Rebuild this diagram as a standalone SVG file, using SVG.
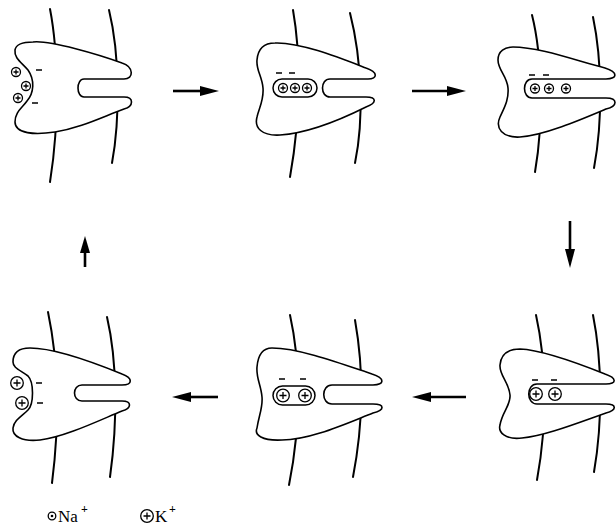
<svg xmlns="http://www.w3.org/2000/svg" width="616" height="526" viewBox="0 0 616 526">
  <defs>
    <style>
      .mem { fill: none; stroke: #000; stroke-width: 2; stroke-linecap: round; }
      .prot { fill: #fff; stroke: #000; stroke-width: 1.6; stroke-linejoin: round; }
      .gap { fill: #fff; stroke: none; }
      .cap { fill: #fff; stroke: #000; stroke-width: 1.5; }
      .ion { fill: #fff; stroke: #000; stroke-width: 1.3; }
      .pl { fill: none; stroke: #000; stroke-width: 1.3; }
      .neg { fill: none; stroke: #000; stroke-width: 1.4; }
      .shaft { fill: none; stroke: #000; stroke-width: 2.6; }
      .head { fill: #000; }
      .lbl { font-family: "Liberation Serif", "Times New Roman", serif; font-size: 17px; fill: #000; }
      .sup { font-family: "Liberation Serif", "Times New Roman", serif; font-size: 12px; font-weight: bold; fill: #000; }
    </style>
    <!-- Na+ ion: small circle with a plus -->
    <g id="na">
      <circle class="ion" r="4.5"/>
      <path class="pl" d="M-2.5,0H2.5M0,-2.5V2.5"/>
    </g>
    <!-- K+ ion: larger circle with a plus -->
    <g id="k">
      <circle class="ion" r="6.3"/>
      <path class="pl" d="M-3.5,0H3.5M0,-3.5V3.5"/>
    </g>
  </defs>

  <!-- Step 1: Na+ bound at the inward-open pocket -->
  <g id="step1">
    <path class="mem" d="M50,9 C58,50 60,120 50,182"/>
    <path class="mem" d="M109,10 C120,55 120,120 112,163"/>
    <rect class="gap" x="84" y="79" width="46" height="18"/>
    <path class="prot" d="M33,42 C50,40 100,55 122,63 C134,67 134,79 124,79 L84,79 C76,79 76,97 84,97 L124,97 C134,97 134,106 124,109 C100,118 80,128 55,132 C35,135 15,134 15,122 C15,112 22,108 27,101 C34,93 35,80 28,70 C21,62 14,58 15,50 C16,44 24,42 33,42 Z"/>
    <use href="#na" x="16" y="72"/>
    <use href="#na" x="26" y="86"/>
    <use href="#na" x="18" y="98"/>
    <path class="neg" d="M36,70H42M32,103H38"/>
  </g>

  <!-- Step 2: Na+ occluded -->
  <g id="step2">
    <path class="mem" d="M293,10 C300,50 302,110 290,177"/>
    <path class="mem" d="M350,13 C362,60 364,120 355,163"/>
    <rect class="gap" x="330" y="79" width="44" height="18"/>
    <path class="prot" d="M275,43 C300,42 340,58 366,68 C378,72 378,79 368,79 L330,79 C320,79 320,97 330,97 L366,97 C377,97 377,103 366,107 C340,120 310,133 280,135 C262,136 254,128 257,117 C259,108 264,100 263,88 C262,76 256,70 257,60 C258,48 265,43 275,43 Z"/>
    <rect class="cap" x="273" y="79" width="44" height="18" rx="9"/>
    <use href="#na" x="283" y="88"/>
    <use href="#na" x="295" y="88"/>
    <use href="#na" x="307" y="88"/>
    <path class="neg" d="M276,73H282M289,73H295"/>
  </g>

  <!-- Step 3: Na+ released to the outside -->
  <g id="step3">
    <path class="mem" d="M532,15 C542,55 544,120 535,172"/>
    <path class="mem" d="M593,17 C602,60 603,120 594,168"/>
    <rect class="gap" x="532" y="79" width="84" height="19"/>
    <path class="prot" d="M513,47 C540,47 580,62 605,68 C618,72 618,79 606,79 L532,79 C522,79 522,98 532,98 L606,98 C618,98 618,106 606,109 C580,120 545,135 520,137 C502,138 495,128 500,117 C504,108 509,100 508,88 C507,76 498,70 498,60 C498,51 505,47 513,47 Z"/>
    <use href="#na" x="535" y="88.5"/>
    <use href="#na" x="549" y="88.5"/>
    <use href="#na" x="566" y="88.5"/>
    <path class="neg" d="M529,75H535M543,75H549"/>
  </g>

  <!-- Step 4: K+ bound from the outside -->
  <g id="step4">
    <path class="mem" d="M536,315 C546,360 548,420 537,480"/>
    <path class="mem" d="M593,315 C602,360 603,420 594,472"/>
    <rect class="gap" x="537" y="384" width="79" height="20"/>
    <path class="prot" d="M520,349 C545,350 585,366 605,374 C617,378 617,384 606,384 L537,384 C526,384 526,404 537,404 L606,404 C617,404 617,410 606,413 C580,422 545,436 522,438 C505,440 498,432 500,425 C502,412 511,405 510,395 C509,382 499,375 500,365 C501,354 508,349 520,349 Z"/>
    <use href="#k" x="536" y="394"/>
    <use href="#k" x="555" y="394"/>
    <path class="neg" d="M532,380H538M551,380H557"/>
  </g>

  <!-- Step 5: K+ occluded -->
  <g id="step5">
    <path class="mem" d="M290,315 C300,360 302,420 289,485"/>
    <path class="mem" d="M355,320 C363,365 364,420 353,477"/>
    <rect class="gap" x="332" y="385" width="48" height="19"/>
    <path class="prot" d="M272,348 C300,348 345,365 372,374 C385,378 385,385 373,385 L332,385 C321,385 321,404 332,404 L373,404 C385,404 385,410 373,413 C345,424 310,440 282,440 C262,441 254,435 257,428 C259,415 263,407 262,397 C261,385 256,378 257,367 C258,355 263,348 272,348 Z"/>
    <rect class="cap" x="273" y="386" width="42" height="19" rx="9.5"/>
    <use href="#k" x="283" y="395.5"/>
    <use href="#k" x="305" y="395.5"/>
    <path class="neg" d="M279,379H285M300,379H306"/>
  </g>

  <!-- Step 6: K+ released to the inside -->
  <g id="step6">
    <path class="mem" d="M48,312 C58,360 60,420 52,483"/>
    <path class="mem" d="M107,317 C117,360 118,420 110,477"/>
    <rect class="gap" x="82" y="385" width="46" height="16"/>
    <path class="prot" d="M30,348 C55,348 100,365 122,374 C133,378 133,385 122,385 L82,385 C72,385 72,401 82,401 L122,401 C132,401 132,408 122,411 C100,420 65,437 40,440 C22,442 12,436 13,428 C14,420 22,416 28,410 C34,404 34,382 28,376 C20,370 13,368 13,362 C13,352 20,348 30,348 Z"/>
    <use href="#k" x="17" y="383"/>
    <use href="#k" x="22" y="403"/>
    <path class="neg" d="M36,383H42M37,403H43"/>
  </g>

  <!-- Cycle arrows -->
  <g id="connectors">
    <line class="shaft" x1="173" y1="91" x2="203" y2="91"/>
    <polygon class="head" points="219,91 200,86 200,96"/>
    <line class="shaft" x1="412" y1="91" x2="450" y2="91"/>
    <polygon class="head" points="466,91 447,86 447,96"/>
    <line class="shaft" x1="570" y1="221" x2="570" y2="252"/>
    <polygon class="head" points="570,268 565,249 575,249"/>
    <line class="shaft" x1="466" y1="397" x2="428" y2="397"/>
    <polygon class="head" points="412,397 431,392 431,402"/>
    <line class="shaft" x1="218" y1="397" x2="188" y2="397"/>
    <polygon class="head" points="172,397 191,392 191,402"/>
    <line class="shaft" x1="85" y1="267" x2="85" y2="250"/>
    <polygon class="head" points="85,236 80,253 90,253"/>
  </g>

  <!-- Legend -->
  <g id="legend">
    <circle class="ion" cx="52" cy="516" r="3.8"/>
    <circle cx="52" cy="516" r="1.3" fill="#000"/>
    <text class="lbl" x="58" y="522">Na</text>
    <text class="sup" x="81" y="513">+</text>
    <use href="#k" x="147" y="516"/>
    <text class="lbl" x="155" y="522">K</text>
    <text class="sup" x="169" y="513">+</text>
  </g>
</svg>
